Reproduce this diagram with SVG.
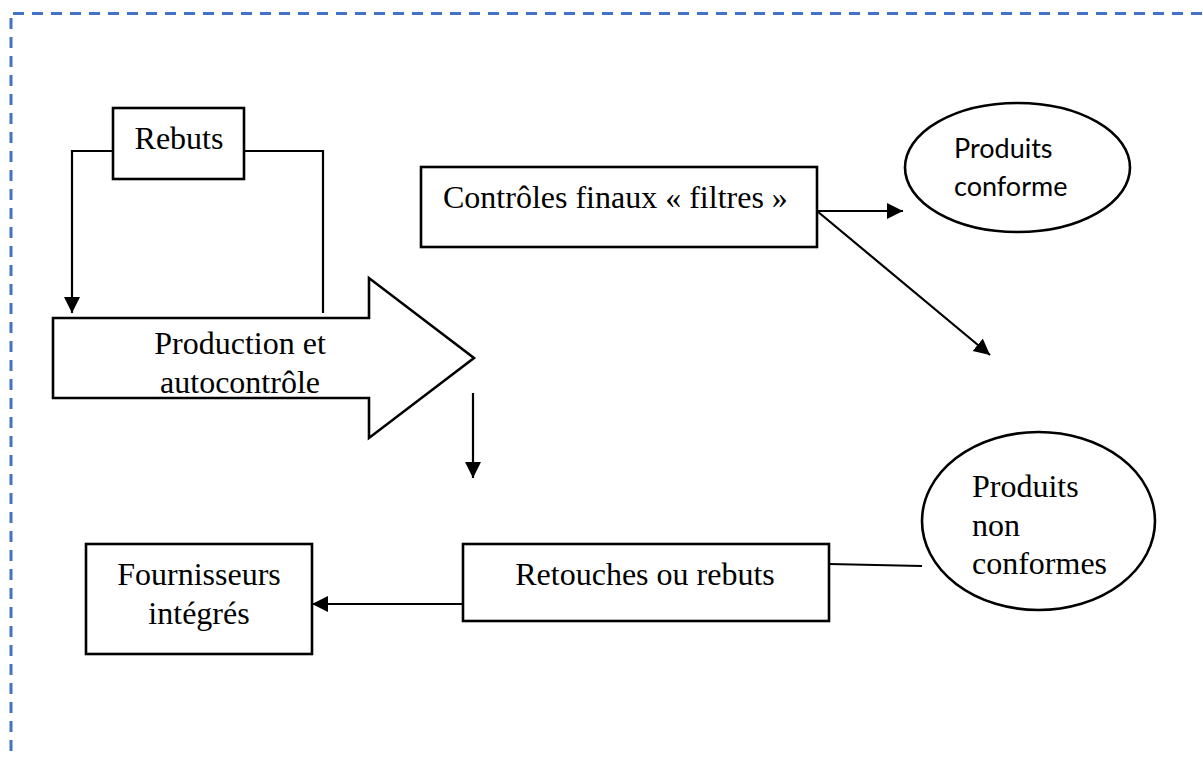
<svg xmlns="http://www.w3.org/2000/svg" width="1203" height="759" viewBox="0 0 1203 759">
  <style>
    .frame { fill: none; stroke: #4472C4; stroke-width: 3; stroke-dasharray: 11 8; }
    .box { fill: #ffffff; stroke: #000000; stroke-width: 2.6; }
    .link { fill: none; stroke: #000000; stroke-width: 2.2; }
    .serif { font-family: "Liberation Serif", "Times New Roman", serif; font-size: 32px; fill: #000000; }
    .sans { font-family: Lato, "Open Sans", "Liberation Sans", sans-serif; font-size: 27px; fill: #000000; }
  </style>
  <defs>
    <marker id="head" markerUnits="userSpaceOnUse" markerWidth="18" markerHeight="18" refX="16" refY="8" orient="auto">
      <path d="M0,0 L16,8 L0,16 z" fill="#000000"/>
    </marker>
  </defs>
  <rect width="1203" height="759" fill="#ffffff"/>

  <!-- dashed page frame -->
  <g id="frame">
    <line class="frame" x1="13" y1="13.5" x2="1203" y2="13.5"/>
    <line class="frame" x1="11" y1="18" x2="11" y2="759"/>
  </g>

  <!-- connectors -->
  <g id="connectors">
    <path class="link" d="M113,151 H72 V313" marker-end="url(#head)"/>
    <path class="link" d="M244,151 H323 V313"/>
    <line class="link" x1="473" y1="393" x2="473" y2="478" marker-end="url(#head)"/>
    <line class="link" x1="817" y1="211" x2="903" y2="211" marker-end="url(#head)"/>
    <line class="link" x1="817" y1="211" x2="990" y2="355" marker-end="url(#head)"/>
    <line class="link" x1="829" y1="564" x2="922" y2="566"/>
    <line class="link" x1="463" y1="604" x2="312" y2="604" marker-end="url(#head)"/>
  </g>

  <g id="rebuts">
    <rect class="box" x="113" y="108" width="131" height="71"/>
    <text class="serif" x="179" y="149" text-anchor="middle">Rebuts</text>
  </g>

  <g id="production">
    <polygon class="box" stroke-width="2" points="53,318 369,318 369,278 474,358 369,438 369,398 53,398"/>
    <text class="serif" x="240" y="354" text-anchor="middle">Production et</text>
    <text class="serif" x="240" y="393" text-anchor="middle">autocontrôle</text>
  </g>

  <g id="controles">
    <rect class="box" x="421" y="167" width="396" height="80"/>
    <text class="serif" x="443" y="208">Contrôles finaux « filtres »</text>
  </g>

  <g id="conformes">
    <ellipse class="box" cx="1017.5" cy="167.5" rx="112.5" ry="64.5"/>
    <text class="sans" x="954" y="158">Produits</text>
    <text class="sans" x="954" y="196">conforme</text>
  </g>

  <g id="non-conformes">
    <ellipse class="box" cx="1038.5" cy="521" rx="116.5" ry="89"/>
    <text class="serif" x="972" y="497">Produits</text>
    <text class="serif" x="972" y="536">non</text>
    <text class="serif" x="972" y="574">conformes</text>
  </g>

  <g id="retouches">
    <rect class="box" x="463" y="544" width="366" height="77"/>
    <text class="serif" x="645" y="585" text-anchor="middle">Retouches ou rebuts</text>
  </g>

  <g id="fournisseurs">
    <rect class="box" x="86" y="544" width="226" height="110"/>
    <text class="serif" x="199" y="585" text-anchor="middle">Fournisseurs</text>
    <text class="serif" x="199" y="624" text-anchor="middle">intégrés</text>
  </g>
</svg>
